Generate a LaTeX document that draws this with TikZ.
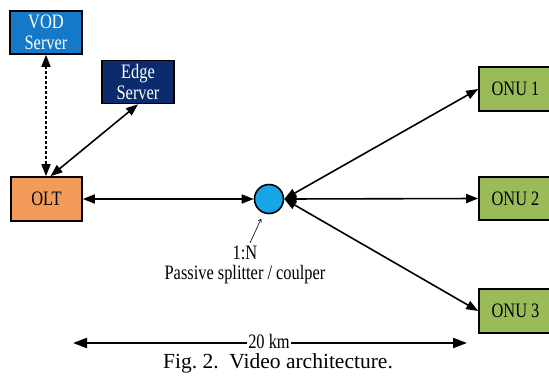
\documentclass[tikz,border=0pt]{standalone}
\usepackage{fontspec}
\setmainfont{Liberation Serif}
\newfontfamily\figfont[FakeStretch=0.8]{Liberation Serif}
\usetikzlibrary{arrows.meta}
\definecolor{vodblue}{HTML}{1479C9}
\definecolor{edgenavy}{HTML}{0B2B6E}
\definecolor{oltorange}{HTML}{F39C5A}
\definecolor{onugreen}{HTML}{9BBB59}
\definecolor{splitblue}{HTML}{16A6E8}
\begin{document}
\begin{tikzpicture}[x=1pt,y=-1pt,
  box/.style={draw=black,line width=1.6pt,minimum width=72pt,minimum height=43pt,
    inner sep=0pt,align=center,font=\figfont\fontsize{20.5}{21.5}\selectfont},
  link/.style={line width=1.6pt,{Triangle[length=12pt,width=9pt]}-{Triangle[length=12pt,width=9pt]}},
  lbl/.style={font=\figfont\fontsize{20.5}{19.5}\selectfont,inner sep=0pt,align=center},
]
\useasboundingbox (0,0) rectangle (549,376);

% equipment
\node[box,fill=vodblue,text=white] (vod) at (46,32.5) {VOD\\Server};
\node[box,fill=edgenavy,text=white] (edge) at (138,82) {Edge\\Server};
\node[box,fill=oltorange,minimum width=71pt,minimum height=44pt] (olt) at (46.5,199) {OLT};
\node[draw=black,line width=1.6pt,fill=splitblue,circle,minimum size=29pt,inner sep=0pt] (split) at (269,199) {};
\node[box,fill=onugreen,minimum width=73pt,minimum height=44pt] (onu1) at (515.5,89) {ONU 1};
\node[box,fill=onugreen,minimum width=73pt,minimum height=43pt] (onu2) at (515.5,198.5) {ONU 2};
\node[box,fill=onugreen,minimum width=73pt,minimum height=44pt] (onu3) at (515.5,311) {ONU 3};

% links
\draw[link,dash pattern=on 3pt off 2pt] (vod.south) -- (olt.north -| vod.south);
\coordinate (oltin) at ([xshift=4pt]olt.north);
\draw[link] (edge.south) -- (oltin);
\draw[link] (olt.east) -- (split.west);
\draw[link] (split.east) -- (onu1.west);
\draw[link] (split.east) -- (onu2.west);
\draw[link] (split.east) -- (onu3.west);

% splitter label
\node[lbl] (splitlabel) at (245,265) {1:N\\Passive splitter / coulper};
\coordinate (pointer) at (250,243);
\draw[line width=0.6pt,-{To[length=3pt,width=4pt]}] (pointer) -- (261,219);

% distance bar
\node[lbl,fill=white,inner xsep=1pt,text depth=0pt] (dist) at (269,341) {20 km};
\coordinate (distL) at (73,343);
\coordinate (distR) at (467,343);
\draw[line width=2.2pt,-{Triangle[length=14pt,width=10pt]}] (dist.west |- distL) -- (distL);
\draw[line width=2.2pt,-{Triangle[length=14pt,width=10pt]}] (dist.east |- distR) -- (distR);

% caption
\node[font=\fontsize{21.5}{24}\selectfont,inner sep=0pt] (caption) at (278,363) {Fig.~2.\ \ Video architecture.};
\end{tikzpicture}
\end{document}
